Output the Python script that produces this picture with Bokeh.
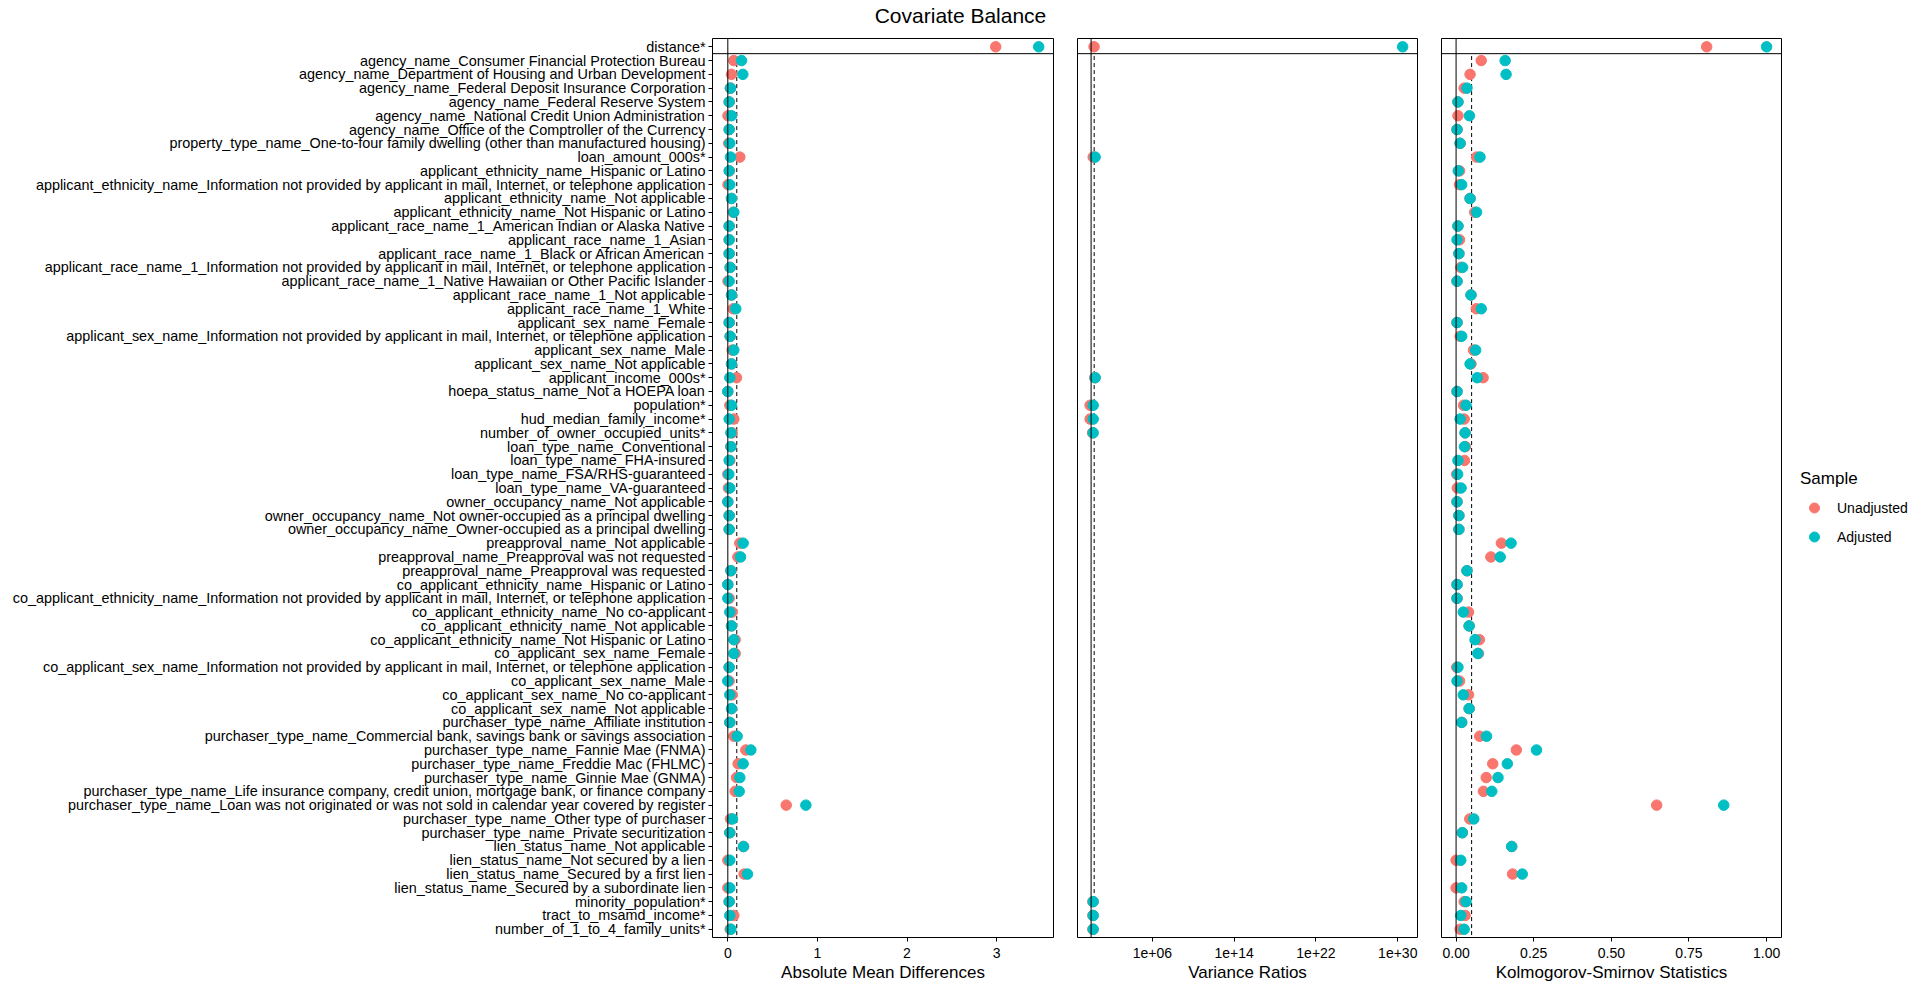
from bokeh.plotting import figure
from bokeh.layouts import row, column
from bokeh.models import (FactorRange, Range1d, Span, Legend, LegendItem, FixedTicker,
                          CustomJSTickFormatter, NumeralTickFormatter)
from bokeh.embed import file_html
from bokeh.resources import INLINE

covariates = [
    "distance*",
    "agency_name_Consumer Financial Protection Bureau",
    "agency_name_Department of Housing and Urban Development",
    "agency_name_Federal Deposit Insurance Corporation",
    "agency_name_Federal Reserve System",
    "agency_name_National Credit Union Administration",
    "agency_name_Office of the Comptroller of the Currency",
    "property_type_name_One-to-four family dwelling (other than manufactured housing)",
    "loan_amount_000s*",
    "applicant_ethnicity_name_Hispanic or Latino",
    "applicant_ethnicity_name_Information not provided by applicant in mail, Internet, or telephone application",
    "applicant_ethnicity_name_Not applicable",
    "applicant_ethnicity_name_Not Hispanic or Latino",
    "applicant_race_name_1_American Indian or Alaska Native",
    "applicant_race_name_1_Asian",
    "applicant_race_name_1_Black or African American",
    "applicant_race_name_1_Information not provided by applicant in mail, Internet, or telephone application",
    "applicant_race_name_1_Native Hawaiian or Other Pacific Islander",
    "applicant_race_name_1_Not applicable",
    "applicant_race_name_1_White",
    "applicant_sex_name_Female",
    "applicant_sex_name_Information not provided by applicant in mail, Internet, or telephone application",
    "applicant_sex_name_Male",
    "applicant_sex_name_Not applicable",
    "applicant_income_000s*",
    "hoepa_status_name_Not a HOEPA loan",
    "population*",
    "hud_median_family_income*",
    "number_of_owner_occupied_units*",
    "loan_type_name_Conventional",
    "loan_type_name_FHA-insured",
    "loan_type_name_FSA/RHS-guaranteed",
    "loan_type_name_VA-guaranteed",
    "owner_occupancy_name_Not applicable",
    "owner_occupancy_name_Not owner-occupied as a principal dwelling",
    "owner_occupancy_name_Owner-occupied as a principal dwelling",
    "preapproval_name_Not applicable",
    "preapproval_name_Preapproval was not requested",
    "preapproval_name_Preapproval was requested",
    "co_applicant_ethnicity_name_Hispanic or Latino",
    "co_applicant_ethnicity_name_Information not provided by applicant in mail, Internet, or telephone application",
    "co_applicant_ethnicity_name_No co-applicant",
    "co_applicant_ethnicity_name_Not applicable",
    "co_applicant_ethnicity_name_Not Hispanic or Latino",
    "co_applicant_sex_name_Female",
    "co_applicant_sex_name_Information not provided by applicant in mail, Internet, or telephone application",
    "co_applicant_sex_name_Male",
    "co_applicant_sex_name_No co-applicant",
    "co_applicant_sex_name_Not applicable",
    "purchaser_type_name_Affiliate institution",
    "purchaser_type_name_Commercial bank, savings bank or savings association",
    "purchaser_type_name_Fannie Mae (FNMA)",
    "purchaser_type_name_Freddie Mac (FHLMC)",
    "purchaser_type_name_Ginnie Mae (GNMA)",
    "purchaser_type_name_Life insurance company, credit union, mortgage bank, or finance company",
    "purchaser_type_name_Loan was not originated or was not sold in calendar year covered by register",
    "purchaser_type_name_Other type of purchaser",
    "purchaser_type_name_Private securitization",
    "lien_status_name_Not applicable",
    "lien_status_name_Not secured by a lien",
    "lien_status_name_Secured by a first lien",
    "lien_status_name_Secured by a subordinate lien",
    "minority_population*",
    "tract_to_msamd_income*",
    "number_of_1_to_4_family_units*",
]

amd_unadjusted = [
    2.99, 0.067, 0.041, 0.028, 0.015, 0.002, 0.015, 0.010, 0.134, 0.018,
    0.002, 0.041, 0.060, 0.015, 0.015, 0.015, 0.026, 0.002, 0.041, 0.060,
    0.015, 0.026, 0.048, 0.041, 0.097, 0.000, 0.022, 0.067, 0.048, 0.034,
    0.022, 0.000, 0.007, 0.000, 0.015, 0.015, 0.134, 0.112, 0.034, 0.000,
    0.015, 0.048, 0.041, 0.082, 0.082, 0.015, 0.015, 0.048, 0.041, 0.022,
    0.067, 0.201, 0.115, 0.097, 0.082, 0.652, 0.030, 0.022, 0.175, 0.000,
    0.182, 0.000, 0.015, 0.067, 0.026,
]
amd_adjusted = [
    3.47, 0.153, 0.168, 0.030, 0.015, 0.041, 0.015, 0.022, 0.030, 0.015,
    0.022, 0.041, 0.067, 0.015, 0.015, 0.015, 0.026, 0.015, 0.041, 0.089,
    0.015, 0.026, 0.067, 0.041, 0.022, 0.000, 0.041, 0.015, 0.034, 0.034,
    0.015, 0.011, 0.022, 0.000, 0.015, 0.015, 0.171, 0.142, 0.034, 0.000,
    0.000, 0.022, 0.041, 0.067, 0.067, 0.015, 0.000, 0.022, 0.041, 0.022,
    0.104, 0.257, 0.171, 0.134, 0.127, 0.871, 0.052, 0.022, 0.175, 0.022,
    0.219, 0.022, 0.015, 0.022, 0.034,
]
ks_unadjusted = [
    0.807, 0.081, 0.045, 0.026, 0.006, 0.006, 0.003, 0.013, 0.066, 0.011,
    0.011, 0.045, 0.060, 0.006, 0.011, 0.009, 0.015, 0.003, 0.048, 0.065,
    0.003, 0.013, 0.056, 0.048, 0.087, 0.003, 0.024, 0.026, 0.029, 0.030,
    0.027, 0.002, 0.004, 0.003, 0.009, 0.009, 0.146, 0.112, 0.035, 0.003,
    0.003, 0.040, 0.042, 0.075, 0.072, 0.002, 0.011, 0.040, 0.042, 0.018,
    0.076, 0.194, 0.118, 0.097, 0.088, 0.646, 0.044, 0.020, 0.179, 0.000,
    0.182, 0.000, 0.026, 0.029, 0.013,
]
ks_adjusted = [
    1.000, 0.158, 0.161, 0.035, 0.006, 0.043, 0.003, 0.013, 0.077, 0.007,
    0.018, 0.045, 0.066, 0.006, 0.003, 0.009, 0.021, 0.003, 0.048, 0.081,
    0.003, 0.018, 0.063, 0.045, 0.068, 0.003, 0.032, 0.013, 0.029, 0.027,
    0.006, 0.005, 0.016, 0.003, 0.009, 0.009, 0.177, 0.142, 0.035, 0.003,
    0.003, 0.023, 0.042, 0.061, 0.070, 0.006, 0.003, 0.023, 0.042, 0.018,
    0.098, 0.259, 0.165, 0.135, 0.115, 0.862, 0.057, 0.020, 0.179, 0.015,
    0.213, 0.018, 0.032, 0.015, 0.026,
]

vr_covariates = [
    "distance*", "loan_amount_000s*", "applicant_income_000s*", "population*",
    "hud_median_family_income*", "number_of_owner_occupied_units*",
    "minority_population*", "tract_to_msamd_income*", "number_of_1_to_4_family_units*",
]
vr_unadjusted = [1.95, 1.6, 2.3, 0.8, 0.8, 1.4, 1.5, 1.5, 1.5]
vr_adjusted = [3.0e30, 2.5, 2.5, 1.6, 1.6, 1.6, 1.6, 1.6, 1.6]

x_titles = ["Absolute Mean Differences", "Variance Ratios", "Kolmogorov-Smirnov Statistics"]
sample_labels = ["Unadjusted", "Adjusted"]
plot_title = "Covariate Balance"

RED = "#F8766D"
TEAL = "#00BFC4"
FONT = "Liberation Sans"
TITLE_H = 36
H = 956
factors = list(reversed(covariates))
boundary = len(covariates) - 1  # between distance facet and covariate facet


def cat_range():
    return FactorRange(factors=factors, range_padding=0.1, range_padding_units="absolute")


def make_fig(width, left, right, x_range, x_axis_type="linear"):
    p = figure(width=width, height=H, output_backend="svg", toolbar_location=None,
               y_range=cat_range(), x_range=x_range, x_axis_type=x_axis_type,
               min_border_left=left, min_border_right=right,
               min_border_top=2, min_border_bottom=55)
    p.grid.visible = False
    p.outline_line_color = "black"
    p.outline_line_width = 1
    p.background_fill_color = "white"
    p.border_fill_color = "white"
    for ax in p.xaxis:
        ax.axis_line_color = None
        ax.major_tick_line_color = "black"
        ax.major_tick_out = 4
        ax.major_tick_in = 0
        ax.minor_tick_line_color = None
        ax.major_label_text_font = FONT
        ax.major_label_text_font_size = "14px"
        ax.major_label_text_color = "black"
        ax.major_label_standoff = 6
        ax.axis_label_text_font = FONT
        ax.axis_label_text_font_size = "17px"
        ax.axis_label_text_font_style = "normal"
        ax.axis_label_text_color = "black"
        ax.axis_label_standoff = 2
    return p


def add_refs(p, solid_at, dashed_at, lo):
    p.add_layout(Span(location=solid_at, dimension="height", line_color="black", line_width=1))
    p.add_layout(Span(location=boundary, dimension="width", line_color="black", line_width=1))
    p.segment(x0=[dashed_at], y0=[lo], x1=[dashed_at], y1=[boundary],
              line_color="black", line_width=1, line_dash="4 3")


# Title strip
pt = figure(width=1920, height=TITLE_H, output_backend="svg", toolbar_location=None,
            x_range=Range1d(-960, 960), y_range=Range1d(-(TITLE_H - 15), 15),
            min_border=0)
pt.axis.visible = False
pt.grid.visible = False
pt.outline_line_color = None
pt.text(x=[0], y=[0], text=[plot_title], text_align="center", text_baseline="middle",
        text_font_size="21px", text_color="black", text_font={"value": FONT})

# Panel 1: Absolute mean differences
p1 = make_fig(1066, 712, 13, Range1d(-0.171, 3.635))
add_refs(p1, 0, 0.1, -5)
p1.scatter(amd_unadjusted, covariates, size=10.5, color=RED)
p1.scatter(amd_adjusted, covariates, size=10.5, color=TEAL)
p1.xaxis.ticker = FixedTicker(ticks=[0, 1, 2, 3])
p1.xaxis.axis_label = x_titles[0]
p1.yaxis.axis_line_color = None
p1.yaxis.major_tick_line_color = "black"
p1.yaxis.major_tick_out = 4
p1.yaxis.major_tick_in = 0
p1.yaxis.major_label_text_font = FONT
p1.yaxis.major_label_text_font_size = "14.4px"
p1.yaxis.major_label_text_color = "black"
p1.yaxis.major_label_standoff = 3

# Panel 2: Variance ratios (log scale)
p2 = make_fig(364, 11, 13, Range1d(10 ** -1.33, 10 ** 31.93), x_axis_type="log")
add_refs(p2, 1, 2, -5)
p2.scatter(vr_unadjusted, vr_covariates, size=10.5, color=RED)
p2.scatter(vr_adjusted, vr_covariates, size=10.5, color=TEAL)
p2.xaxis.ticker = FixedTicker(ticks=[1e6, 1e14, 1e22, 1e30])
p2.xaxis.formatter = CustomJSTickFormatter(code="""
    const e = Math.round(Math.log10(tick));
    return '1e+' + (e < 10 ? '0' : '') + e;
""")
p2.xaxis.axis_label = x_titles[1]
p2.yaxis.visible = False

# Panel 3: KS statistics
p3 = make_fig(352, 11, 1, Range1d(-0.047, 1.048))
add_refs(p3, 0, 0.05, -5)
p3.scatter(ks_unadjusted, covariates, size=10.5, color=RED)
p3.scatter(ks_adjusted, covariates, size=10.5, color=TEAL)
p3.xaxis.ticker = FixedTicker(ticks=[0, 0.25, 0.5, 0.75, 1.0])
p3.xaxis.formatter = NumeralTickFormatter(format="0.00")
p3.xaxis.axis_label = x_titles[2]
p3.yaxis.visible = False

# Legend strip (key only; its renderers are not drawn)
pl = figure(width=138, height=H, output_backend="svg", toolbar_location=None,
            y_range=cat_range(), x_range=Range1d(-0.047, 1.048), min_border=0)
pl.axis.visible = False
pl.grid.visible = False
pl.outline_line_color = None
r_un = pl.scatter(ks_unadjusted, covariates, size=10.5, color=RED, visible=False)
r_ad = pl.scatter(ks_adjusted, covariates, size=10.5, color=TEAL, visible=False)
legend = Legend(items=[LegendItem(label=sample_labels[0], renderers=[r_un]),
                       LegendItem(label=sample_labels[1], renderers=[r_ad])],
                location=(18, 388), title="Sample",
                title_text_font=FONT, title_text_font_size="17px",
                title_text_font_style="normal", title_text_color="black",
                title_standoff=6,
                label_text_font=FONT, label_text_font_size="14px", label_text_color="black",
                glyph_width=28, glyph_height=25, label_standoff=9, spacing=4,
                padding=5, margin=0, border_line_color=None, background_fill_alpha=0,
                inactive_fill_alpha=0)
pl.add_layout(legend)

layout = column(pt, row(p1, p2, p3, pl, spacing=0), spacing=0)
open("out.html", "w").write(file_html(layout, INLINE))
